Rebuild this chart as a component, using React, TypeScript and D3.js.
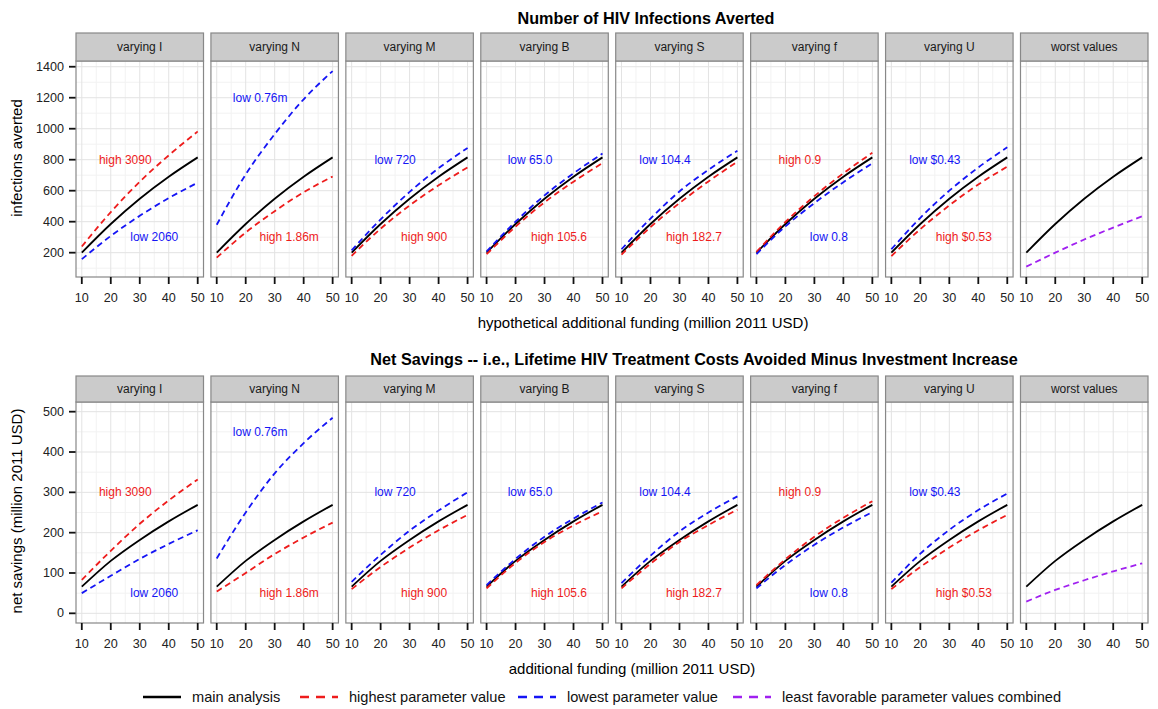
import React from "react";
import * as d3 from "d3";

const funding = [10, 20, 30, 40, 50];
const facets = ["varying I", "varying N", "varying M", "varying B", "varying S", "varying f", "varying U", "worst values"];

// upper / lower annotation per facet
const upperLabels = ["high 3090", "low 0.76m", "low 720", "low 65.0", "low 104.4", "high 0.9", "low $0.43", ""];
const lowerLabels = ["low 2060", "high 1.86m", "high 900", "high 105.6", "high 182.7", "low 0.8", "high $0.53", ""];

// number of HIV infections averted
const avertedMain = [200, 385, 548, 690, 815];
const avertedHigh = [
  [240, 462, 658, 828, 982],
  [168, 330, 468, 590, 692],
  [180, 355, 505, 635, 750],
  [190, 368, 525, 658, 778],
  [187, 365, 520, 660, 787],
  [205, 398, 565, 712, 845],
  [178, 352, 505, 640, 755],
  null,
];
const avertedLow = [
  [158, 308, 438, 552, 652],
  [380, 705, 965, 1190, 1372],
  [215, 415, 592, 745, 876],
  [208, 400, 570, 712, 840],
  [222, 420, 595, 735, 858],
  [190, 370, 520, 655, 777],
  [222, 425, 600, 750, 880],
  null,
];
const avertedWorst = [110, 200, 285, 362, 435];

// net savings (million 2011 USD)
const savingsMain = [66, 130, 182, 228, 269];
const savingsHigh = [
  [83, 155, 222, 280, 332],
  [54, 100, 147, 188, 225],
  [60, 115, 163, 206, 244],
  [62, 125, 177, 218, 253],
  [62, 123, 177, 219, 257],
  [70, 134, 190, 237, 278],
  [60, 115, 163, 206, 244],
  null,
];
const savingsLow = [
  [50, 93, 135, 172, 206],
  [136, 250, 347, 422, 485],
  [78, 145, 205, 255, 300],
  [70, 135, 190, 235, 275],
  [75, 143, 203, 250, 290],
  [62, 120, 170, 213, 251],
  [76, 148, 207, 256, 297],
  null,
];
const savingsWorst = [29, 58, 82, 104, 124];

const legendItems = ["main analysis", "highest parameter value", "lowest parameter value", "least favorable parameter values combined"];

const RED = "#ee1c1c";
const BLUE = "#1515f5";
const PURPLE = "#a020f0";
const FONT = "'Liberation Sans', Arial, Helvetica, sans-serif";

const rows = [
  {
    title: "Number of HIV Infections Averted", titleX: 646, titleY: 18,
    yTitle: "infections averted", yTitleY: 158,
    xTitle: "hypothetical additional funding (million 2011 USD)", xTitleX: 643, xTitleY: 322,
    stripTop: 33, top: 61, bottom: 277, domain: [43, 1437],
    ticks: d3.range(200, 1401, 200), minor: d3.range(100, 1401, 200),
    main: avertedMain, high: avertedHigh, low: avertedLow, worst: avertedWorst,
    upperY: 800, upperYN: 1200, lowerY: 300,
  },
  {
    title: "Net Savings -- i.e., Lifetime HIV Treatment Costs Avoided Minus Investment Increase", titleX: 694, titleY: 359,
    yTitle: "net savings (million 2011 USD)", yTitleY: 511,
    xTitle: "additional funding (million 2011 USD)", xTitleX: 632, xTitleY: 668,
    stripTop: 376, top: 402, bottom: 623, domain: [-24, 524],
    ticks: d3.range(0, 501, 100), minor: d3.range(50, 501, 100),
    main: savingsMain, high: savingsHigh, low: savingsLow, worst: savingsWorst,
    upperY: 300, upperYN: 450, lowerY: 50,
  },
];

const facetX = d3.scaleBand<string>().domain(facets).range([76, 1148]).paddingInner(0.055);

function Row({ row }: { row: any }) {
  const y = d3.scaleLinear().domain(row.domain).range([row.bottom, row.top]);
  const bw = facetX.bandwidth();
  return (
    <g>
      <text x={row.titleX} y={row.titleY} textAnchor="middle" dominantBaseline="central" fontSize={16.2} fontWeight="bold" fill="#000">{row.title}</text>
      <text transform={`translate(16,${row.yTitleY}) rotate(-90)`} textAnchor="middle" dominantBaseline="central" fontSize={15} fill="#000">{row.yTitle}</text>
      <text x={row.xTitleX} y={row.xTitleY} textAnchor="middle" dominantBaseline="central" fontSize={15} fill="#000">{row.xTitle}</text>
      {row.ticks.map((t: number) => (
        <g key={t}>
          <line x1={69} x2={76} y1={y(t)} y2={y(t)} stroke="#111" strokeWidth={1.8} />
          <text x={64} y={y(t)} textAnchor="end" dominantBaseline="central" fontSize={12.6} fill="#222">{t}</text>
        </g>
      ))}
      {facets.map((f, i) => {
        const x0 = facetX(f) as number;
        const x = d3.scaleLinear().domain([8, 52]).range([x0, x0 + bw]);
        const line = d3.line<number>().x((_, j) => x(funding[j])).y((v) => y(v)).curve(d3.curveMonotoneX);
        const labY = i === 1 ? row.upperYN : row.upperY;
        return (
          <g key={f}>
            <rect x={x0} y={row.top} width={bw} height={row.bottom - row.top} fill="#fff" />
            {row.minor.filter((v: number) => v > row.domain[0] && v < row.domain[1]).map((v: number) => (
              <line key={"my" + v} x1={x0} x2={x0 + bw} y1={y(v)} y2={y(v)} stroke="#f2f2f2" strokeWidth={1} />
            ))}
            {[15, 25, 35, 45].map((v) => (
              <line key={"mx" + v} x1={x(v)} x2={x(v)} y1={row.top} y2={row.bottom} stroke="#f2f2f2" strokeWidth={1} />
            ))}
            {row.ticks.map((v: number) => (
              <line key={"gy" + v} x1={x0} x2={x0 + bw} y1={y(v)} y2={y(v)} stroke="#e3e3e3" strokeWidth={1} />
            ))}
            {funding.map((v) => (
              <line key={"gx" + v} x1={x(v)} x2={x(v)} y1={row.top} y2={row.bottom} stroke="#e3e3e3" strokeWidth={1} />
            ))}
            <path d={line(row.main) || ""} fill="none" stroke="#000" strokeWidth={1.8} />
            {row.high[i] && <path d={line(row.high[i]) || ""} fill="none" stroke={RED} strokeWidth={1.8} strokeDasharray="6,4" />}
            {row.low[i] && <path d={line(row.low[i]) || ""} fill="none" stroke={BLUE} strokeWidth={1.8} strokeDasharray="6,4" />}
            {i === 7 && <path d={line(row.worst) || ""} fill="none" stroke={PURPLE} strokeWidth={1.8} strokeDasharray="6,4" />}
            {upperLabels[i] && (
              <text x={x(25)} y={y(labY)} textAnchor="middle" dominantBaseline="central" fontSize={12}
                fill={upperLabels[i].startsWith("high") ? RED : BLUE}>{upperLabels[i]}</text>
            )}
            {lowerLabels[i] && (
              <text x={x(35)} y={y(row.lowerY)} textAnchor="middle" dominantBaseline="central" fontSize={12}
                fill={lowerLabels[i].startsWith("high") ? RED : BLUE}>{lowerLabels[i]}</text>
            )}
            <rect x={x0} y={row.top} width={bw} height={row.bottom - row.top} fill="none" stroke="#888" strokeWidth={1.2} />
            <rect x={x0} y={row.stripTop} width={bw} height={row.top - row.stripTop} fill="#cbcbcb" stroke="#888" strokeWidth={1.2} />
            <text x={x0 + bw / 2} y={(row.stripTop + row.top) / 2} textAnchor="middle" dominantBaseline="central" fontSize={12} fill="#1a1a1a">{f}</text>
            {funding.map((v) => (
              <g key={"t" + v}>
                <line x1={x(v)} x2={x(v)} y1={row.bottom} y2={row.bottom + 7} stroke="#111" strokeWidth={1.8} />
                <text x={x(v)} y={row.bottom + 21} textAnchor="middle" dominantBaseline="central" fontSize={12.6} fill="#222">{v}</text>
              </g>
            ))}
          </g>
        );
      })}
    </g>
  );
}

export default function App() {
  const legendColors = ["#000", RED, BLUE, PURPLE];
  const legendX = [143, 300, 518, 733];
  return (
    <svg width={1158} height={709} style={{ position: "absolute", left: 0, top: 0, fontFamily: FONT }}>
      <rect width={1158} height={709} fill="#fff" />
      {rows.map((r, k) => <Row key={k} row={r} />)}
      {legendItems.map((t, i) => (
        <g key={t}>
          <line x1={legendX[i]} x2={legendX[i] + 38} y1={697} y2={697} stroke={legendColors[i]} strokeWidth={2.6}
            strokeDasharray={i === 0 ? undefined : "9,7"} />
          <text x={legendX[i] + 49} y={697} dominantBaseline="central" fontSize={14.6} fill="#111">{t}</text>
        </g>
      ))}
    </svg>
  );
}
